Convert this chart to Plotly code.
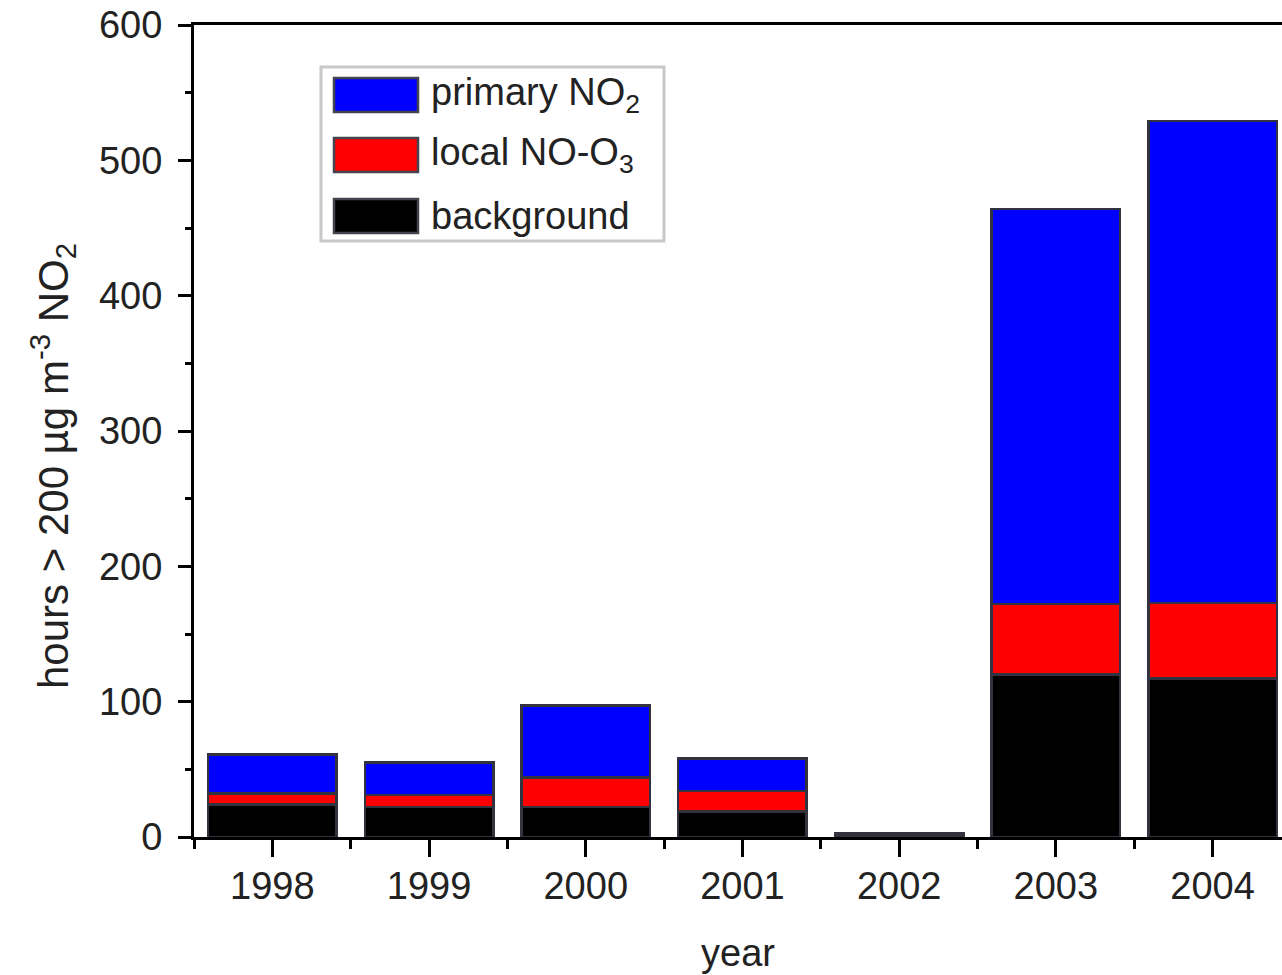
import plotly.graph_objects as go

# Hours above 200 µg/m3 NO2, split by source contribution
years = ["1998", "1999", "2000", "2001", "2002", "2003", "2004"]
background = [24, 22, 22, 19, 1, 120, 117]
local_no_o3 = [8, 9, 22, 15, 1, 52, 56]
primary_no2 = [29, 24, 53, 24, 1, 292, 356]

series_names = ["background", "local NO-O<sub>3</sub>", "primary NO<sub>2</sub>"]
series_colors = ["#000000", "#ff0000", "#0000ff"]

FONT = "Liberation Sans, Arial, sans-serif"
TEXT = "#222222"
W, H = 1282, 975
ML, MR, MT, MB = 194, 0, 25, 138

xpos = list(range(len(years)))

fig = go.Figure()
for name, vals, col in zip(series_names, [background, local_no_o3, primary_no2], series_colors):
    fig.add_trace(go.Bar(
        x=xpos, y=vals, name=name, width=0.82,
        marker=dict(color=col, line=dict(color="#333340", width=2.5)),
        showlegend=False,
    ))

# paper-coordinate helpers for the boxed legend and axis title
pw = W - ML - MR
ph = H - MT - MB
def px(x):
    return (x - ML) / pw
def py(y):
    return (H - MB - y) / ph

shapes = [dict(type="rect", xref="paper", yref="paper",
               x0=px(321), x1=px(664), y0=py(241), y1=py(67),
               line=dict(color="#c8c8c8", width=3), fillcolor="white", layer="above")]
annotations = []
legend_rows = [("primary NO<sub>2</sub>", "#0000ff", 95),
               ("local NO-O<sub>3</sub>", "#ff0000", 155),
               ("background", "#000000", 216)]
for label, col, cy in legend_rows:
    shapes.append(dict(type="rect", xref="paper", yref="paper",
                       x0=px(334), x1=px(418), y0=py(cy + 17), y1=py(cy - 17),
                       line=dict(color="#444450", width=2.5), fillcolor=col, layer="above"))
    annotations.append(dict(xref="paper", yref="paper", x=px(429), y=py(cy),
                            xanchor="left", yanchor="middle", showarrow=False,
                            text=label, font=dict(family=FONT, size=38, color=TEXT)))

# rotated y-axis title
annotations.append(dict(xref="paper", yref="paper", x=px(52), y=py(466),
                        xanchor="center", yanchor="middle", showarrow=False, textangle=-90,
                        text="hours > 200 µg m<sup>-3</sup> NO<sub>2</sub>",
                        font=dict(family=FONT, size=42, color=TEXT)))

fig.update_layout(
    width=W, height=H,
    margin=dict(l=ML, r=MR, t=MT, b=MB),
    paper_bgcolor="white", plot_bgcolor="white",
    barmode="stack", bargap=0.18,
    font=dict(family=FONT, size=38, color=TEXT),
    shapes=shapes, annotations=annotations,
    xaxis=dict(
        range=[-0.5, -0.5 + pw / 156.7], tickmode="array", tickvals=xpos, ticktext=years,
        showline=True, linecolor="black", linewidth=3, mirror=True,
        ticks="outside", ticklen=17, tickwidth=3, tickcolor="black",
        minor=dict(tick0=-0.5, dtick=1, ticks="outside", ticklen=9, tickwidth=3, tickcolor="black"),
        showgrid=False, zeroline=False, automargin=False,
        tickfont=dict(family=FONT, size=38, color=TEXT), ticklabelstandoff=-4,
        title=dict(text="year", font=dict(family=FONT, size=38, color=TEXT), standoff=34),
    ),
    yaxis=dict(
        range=[0, 600], tickmode="linear", tick0=0, dtick=100,
        showline=True, linecolor="black", linewidth=3,
        ticks="outside", ticklen=13, tickwidth=3, tickcolor="black",
        minor=dict(dtick=50, ticks="outside", ticklen=6, tickwidth=3, tickcolor="black"),
        showgrid=False, zeroline=False, automargin=False,
        tickfont=dict(family=FONT, size=38, color=TEXT), ticklabelstandoff=8,
    ),
)

fig.write_html("out.html")
